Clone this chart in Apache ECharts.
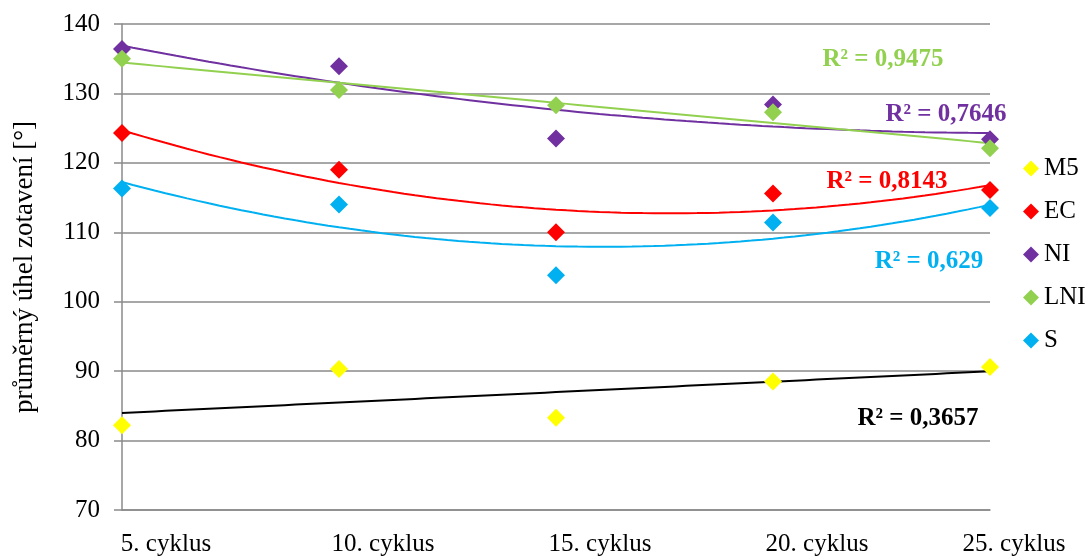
<!DOCTYPE html>
<html>
<head>
<meta charset="utf-8">
<script src="https://cdn.jsdelivr.net/npm/echarts@6/dist/echarts.min.js"></script>
<style>html,body{margin:0;padding:0;background:#fff}#c{width:1086px;height:557px}</style>
</head>
<body>
<div id="c"></div>
<script>
var categories = ['5. cyklus', '10. cyklus', '15. cyklus', '20. cyklus', '25. cyklus'];
var yTicks = [70, 80, 90, 100, 110, 120, 130, 140];
var seriesNames = ['M5', 'EC', 'NI', 'LNI', 'S'];
var M5  = [82.2, 90.3, 83.3, 88.5, 90.6];
var EC  = [124.3, 119.0, 110.0, 115.6, 116.1];
var NI  = [136.4, 133.9, 123.5, 128.4, 123.4];
var LNI = [135.0, 130.5, 128.3, 127.3, 122.1];
var S   = [116.3, 114.0, 103.8, 111.4, 113.5];
var trendOrder = [1, 2, 2, 1, 2];
var r2Labels = ['R² = 0,3657', 'R² = 0,8143', 'R² = 0,7646', 'R² = 0,9475', 'R² = 0,629'];

var colors = ['#FFFF00', '#FF0000', '#7030A0', '#92D050', '#00B0F0'];
var trendColors = ['#000000', '#FF0000', '#7030A0', '#92D050', '#00B0F0'];
var FONT = "'Liberation Serif', 'Times New Roman', serif";
var allData = [M5, EC, NI, LNI, S];

function solve(A, b) {
  var n = b.length, M = A.map(function (r, i) { return r.concat([b[i]]); });
  for (var i = 0; i < n; i++) {
    var p = i;
    for (var k = i + 1; k < n; k++) if (Math.abs(M[k][i]) > Math.abs(M[p][i])) p = k;
    var t = M[i]; M[i] = M[p]; M[p] = t;
    for (var k2 = 0; k2 < n; k2++) {
      if (k2 === i) continue;
      var f = M[k2][i] / M[i][i];
      for (var j = i; j <= n; j++) M[k2][j] -= f * M[i][j];
    }
  }
  return M.map(function (r, i) { return r[n] / r[i]; });
}
function polyFit(ys, order) {
  var n = order + 1, A = [], b = [];
  for (var i = 0; i < n; i++) {
    A.push([]); b.push(0);
    for (var j = 0; j < n; j++) {
      var s = 0;
      ys.forEach(function (y, k) { s += Math.pow(k + 1, i + j); });
      A[i].push(s);
    }
    ys.forEach(function (y, k) { b[i] += y * Math.pow(k + 1, i); });
  }
  return solve(A, b);
}
function trendPoints(ys, order) {
  var c = polyFit(ys, order), pts = [];
  for (var s = 0; s <= 80; s++) {
    var x = 1 + s * 4 / 80, y = 0;
    for (var i = 0; i < c.length; i++) y += c[i] * Math.pow(x, i);
    pts.push([x, y]);
  }
  return pts;
}

var series = [];
allData.forEach(function (d, i) {
  series.push({
    name: seriesNames[i] + ' trend', type: 'line', xAxisIndex: 1,
    data: trendPoints(d, trendOrder[i]), showSymbol: false, silent: true,
    lineStyle: { color: trendColors[i], width: 2 }, z: 3
  });
});
allData.forEach(function (d, i) {
  series.push({
    name: seriesNames[i], type: 'scatter', xAxisIndex: 0,
    symbol: 'diamond', symbolSize: 18,
    itemStyle: { color: colors[i], opacity: 1 },
    data: d, z: 4
  });
});

var labelPos = [[918, 419], [887, 182], [946, 115], [883, 60], [929, 262]];
var graphics = r2Labels.map(function (t, i) {
  return {
    type: 'text', x: labelPos[i][0], y: labelPos[i][1], z: 10,
    style: { text: t, fill: trendColors[i], font: 'bold 25px ' + FONT, align: 'center', verticalAlign: 'middle' }
  };
});

var catData = categories.map(function (c, i) {
  return { value: c, textStyle: { padding: [0, 0, 0, i === categories.length - 1 ? 48 : 88] } };
});

var chart = echarts.init(document.getElementById('c'));
chart.setOption({
  animation: false,
  backgroundColor: '#fff',
  textStyle: { fontFamily: FONT },
  grid: { left: 122, right: 96, top: 24, bottom: 46, containLabel: false },
  legend: {
    data: seriesNames, orient: 'vertical', left: 1018, top: 151,
    icon: 'diamond', itemWidth: 16, itemHeight: 16, itemGap: 18,
    itemStyle: { opacity: 1 },
    textStyle: { fontFamily: FONT, fontSize: 25, color: '#000' }
  },
  xAxis: [{
    type: 'category', data: catData, boundaryGap: false,
    axisLine: { show: true, lineStyle: { color: '#8a8a8a', width: 1.5 } },
    axisTick: { show: false },
    splitLine: { show: false },
    axisLabel: { interval: 0, align: 'center', margin: 22, fontFamily: FONT, fontSize: 25, color: '#000' }
  }, {
    type: 'value', min: 1, max: 5, show: false
  }],
  yAxis: {
    type: 'value', min: yTicks[0], max: yTicks[yTicks.length - 1], interval: 10,
    name: 'průměrný úhel zotavení [°]', nameLocation: 'middle', nameRotate: 90, nameGap: 84,
    nameTextStyle: { fontFamily: FONT, fontSize: 27, color: '#000' },
    axisLine: { show: true, lineStyle: { color: '#8a8a8a', width: 1.5 } },
    axisTick: { show: true, inside: false, length: 8, lineStyle: { color: '#8a8a8a', width: 1.5 } },
    splitLine: { show: true, lineStyle: { color: '#8a8a8a', width: 1.5 } },
    axisLabel: { margin: 22, fontFamily: FONT, fontSize: 25, color: '#000' }
  },
  graphic: graphics,
  series: series
});
</script>
</body>
</html>
